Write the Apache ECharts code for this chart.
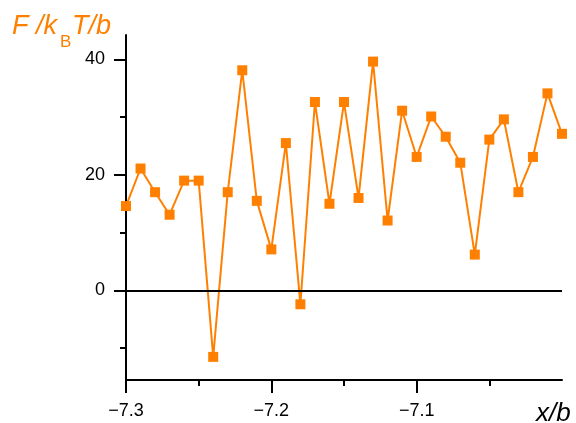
<!DOCTYPE html>
<html>
<head>
<meta charset="utf-8">
<script src="https://cdn.jsdelivr.net/npm/echarts@6/dist/echarts.min.js"></script>
<style>
html,body{margin:0;padding:0;background:#fff;}
#chart{width:576px;height:423px;}
</style>
</head>
<body>
<div id="chart"></div>
<script>
// Data
var xValues = [-7.30, -7.29, -7.28, -7.27, -7.26, -7.25, -7.24, -7.23, -7.22, -7.21,
               -7.20, -7.19, -7.18, -7.17, -7.16, -7.15, -7.14, -7.13, -7.12, -7.11,
               -7.10, -7.09, -7.08, -7.07, -7.06, -7.05, -7.04, -7.03, -7.02, -7.01, -7.00];
var fValues = [14.6, 21.1, 17.0, 13.1, 19.0, 19.0, -11.5, 17.0, 38.1, 15.5,
               7.1, 25.5, -2.4, 32.6, 15.0, 32.6, 16.0, 39.6, 12.1, 31.1,
               23.1, 30.1, 26.6, 22.1, 6.2, 26.1, 29.6, 17.0, 23.1, 34.1, 27.1];
var xMajorTicks = [-7.3, -7.2, -7.1];
var xMinorTicks = [-7.25, -7.15, -7.05];
var yMajorTicks = [0, 20, 40];
var yMinorTicks = [-10, 10, 30];

var ORANGE = '#ff8000';
var FONT = 'Liberation Sans, Arial, sans-serif';

var seriesData = xValues.map(function (x, i) { return [x, fValues[i]]; });

var chart = echarts.init(document.getElementById('chart'), null, {renderer: 'canvas'});
chart.setOption({
  animation: false,
  backgroundColor: '#fff',
  grid: {left: 126, right: 14, top: 35, bottom: 43, containLabel: false},
  xAxis: [{
    type: 'value', min: -7.3, max: -7.0, position: 'bottom',
    axisLine: {show: true, onZero: false, lineStyle: {color: '#000', width: 2}},
    axisTick: {show: true, length: 13, lineStyle: {color: '#000', width: 2}, customValues: xMajorTicks},
    axisLabel: {show: true, customValues: xMajorTicks, margin: 22, color: '#000', fontSize: 18, fontFamily: FONT,
      formatter: function (v) { return v.toFixed(1).replace('-', '\u2212'); }},
    splitLine: {show: false}
  }, {
    type: 'value', min: -7.3, max: -7.0, position: 'bottom',
    axisLine: {show: false, onZero: false},
    axisTick: {show: true, length: 6, lineStyle: {color: '#000', width: 2}, customValues: xMinorTicks},
    axisLabel: {show: false},
    splitLine: {show: false}
  }],
  yAxis: [{
    type: 'value', min: -15.5, max: 44.2, position: 'left',
    axisLine: {show: true, onZero: false, lineStyle: {color: '#000', width: 2}},
    axisTick: {show: true, length: 12, lineStyle: {color: '#000', width: 2}, customValues: yMajorTicks},
    axisLabel: {show: true, customValues: yMajorTicks, margin: 21, color: '#000', fontSize: 18, fontFamily: FONT},
    splitLine: {show: false}
  }, {
    type: 'value', min: -15.5, max: 44.2, position: 'left',
    axisLine: {show: false, onZero: false},
    axisTick: {show: true, length: 6, lineStyle: {color: '#000', width: 2}, customValues: yMinorTicks},
    axisLabel: {show: false},
    splitLine: {show: false}
  }],
  series: [{
    type: 'line',
    xAxisIndex: 0, yAxisIndex: 0,
    data: seriesData,
    symbol: 'rect', symbolSize: 10,
    itemStyle: {color: ORANGE},
    lineStyle: {color: ORANGE, width: 2},
    clip: true,
    markLine: {
      silent: true, symbol: 'none', label: {show: false},
      lineStyle: {color: '#000', width: 2, type: 'solid'},
      data: [{yAxis: 0}]
    },
    z: 3
  }],
  graphic: [
    {type: 'text', left: 12, top: 13, style: {text: 'F /k', fill: ORANGE, font: 'italic 27px ' + FONT}},
    {type: 'text', left: 60, top: 34, style: {text: 'B', fill: ORANGE, font: '17px ' + FONT}},
    {type: 'text', left: 72, top: 13, style: {text: 'T/b', fill: ORANGE, font: 'italic 27px ' + FONT}},
    {type: 'text', left: 536, top: 401, style: {text: 'x/b', fill: '#000', font: 'italic 26px ' + FONT}}
  ]
});
</script>
</body>
</html>
